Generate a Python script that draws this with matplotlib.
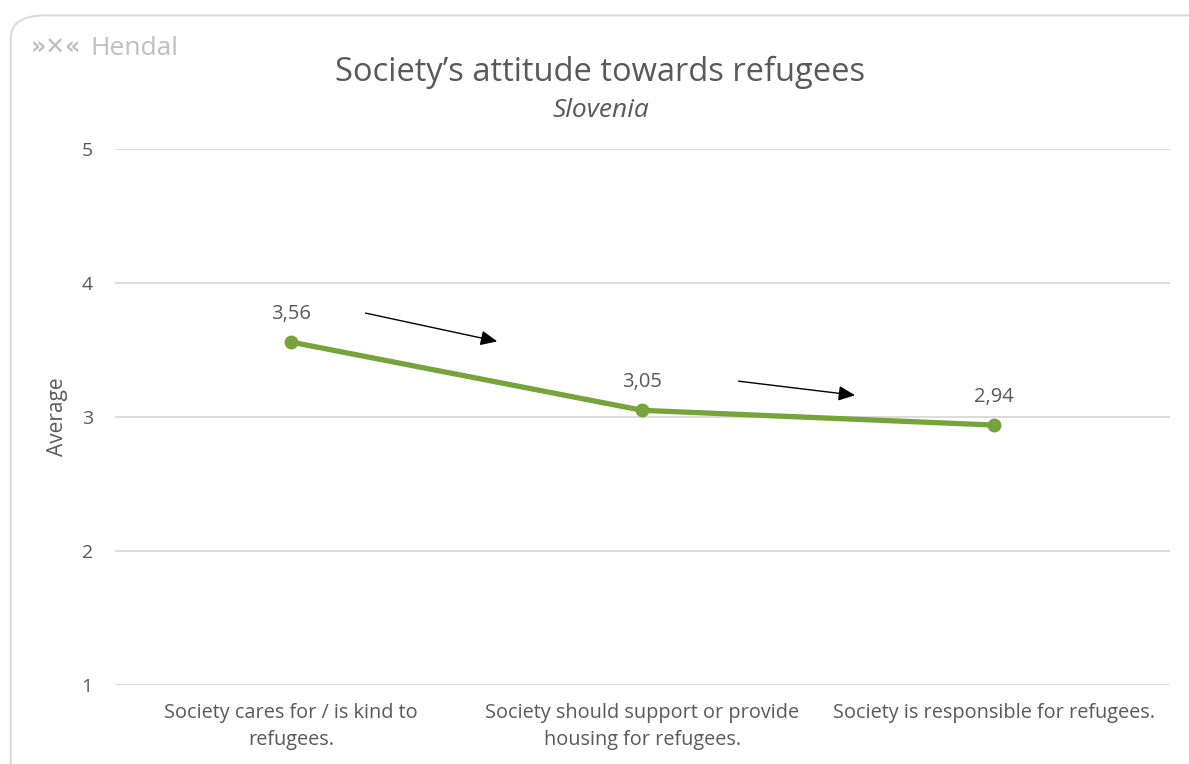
import matplotlib.pyplot as plt
from matplotlib.patches import FancyBboxPatch

# chart data
categories = ["Society cares for / is kind to\nrefugees.",
              "Society should support or provide\nhousing for refugees.",
              "Society is responsible for refugees."]
averages = [3.56, 3.05, 2.94]
value_labels = ["3,56", "3,05", "2,94"]

# trend arrows (start, end) in data coordinates
arrows = [((0.205, 3.78), (0.595, 3.56)),
          ((1.266, 3.27), (1.613, 3.16))]

plt.rcParams['font.family'] = ['Open Sans', 'DejaVu Sans']
text_color = '#595959'
green = '#76A33A'

fig = plt.figure(figsize=(11.89, 7.64), dpi=100)
fig.patch.set_facecolor('white')

# rounded frame around the chart
frame = FancyBboxPatch((0.009, -0.05), 1.05, 1.03,
                       boxstyle="round,pad=0,rounding_size=0.03",
                       transform=fig.transFigure, facecolor='none',
                       edgecolor='#d9d9d9', linewidth=1.5)
fig.patches.append(frame)

ax = fig.add_axes([0.0967, 0.1034, 0.887, 0.7015])
x = range(len(categories))
ax.plot(x, averages, color=green, linewidth=3.8, marker='o', markersize=9,
        solid_capstyle='round', zorder=3)

for xi, yi, lab in zip(x, averages, value_labels):
    ax.annotate(lab, (xi, yi), xytext=(0, 13), textcoords='offset points',
                ha='center', va='bottom', fontsize=14.5, color=text_color)

for start, end in arrows:
    ax.annotate("", xy=end, xytext=start,
                arrowprops=dict(arrowstyle='-|>,head_length=1.0,head_width=0.45',
                                color='black', linewidth=1.0))

ax.set_xlim(-0.5, 2.5)
ax.set_ylim(1, 5)
ax.set_yticks([1, 2, 3, 4, 5])
ax.set_xticks(list(x))
ax.set_xticklabels(categories, fontsize=14.3, color=text_color, linespacing=1.45)
ax.tick_params(axis='y', labelsize=14, labelcolor=text_color, length=0, pad=16)
ax.tick_params(axis='x', length=0, pad=13)
ax.grid(axis='y', color='#d9d9d9', linewidth=1.3)
ax.set_axisbelow(True)
for s in ax.spines.values():
    s.set_visible(False)
ax.set_ylabel("Average", fontsize=15, color=text_color, labelpad=10)

fig.text(0.505, 0.905, "Society\u2019s attitude towards refugees",
         ha='center', va='center', fontsize=23.5, color=text_color)
fig.text(0.505, 0.855, "Slovenia", ha='center', va='center',
         fontsize=19, style='italic', color=text_color)

# logo
fig.text(0.026, 0.938, "\u00bb\u2715\u00ab", ha='left', va='center',
         fontsize=17, fontweight='bold', color='#bfbfbf', family=['DejaVu Sans'])
fig.text(0.076, 0.937, "Hendal", ha='left', va='center',
         fontsize=19, color='#bfbfbf')

fig.savefig("out.png", dpi=100)
